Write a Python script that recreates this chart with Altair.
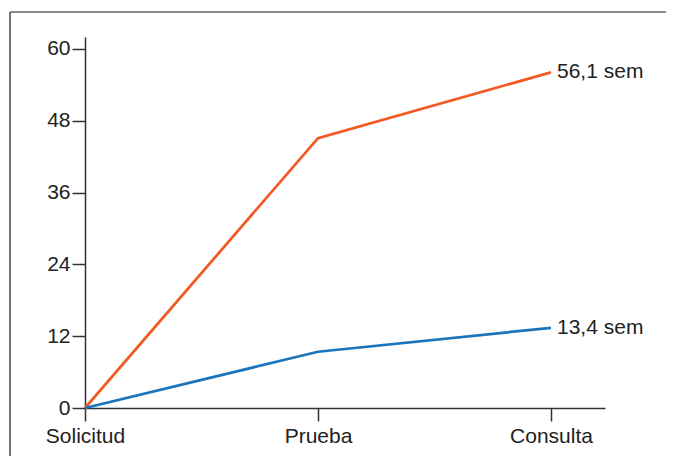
import altair as alt
import pandas as pd

categories = ["Solicitud", "Prueba", "Consulta"]
serie_naranja = [0, 45.1, 56.1]
serie_azul = [0, 9.4, 13.4]
etiquetas = ["56,1 sem", "13,4 sem"]
y_ticks = [0, 12, 24, 36, 48, 60]

rows = []
for i, c in enumerate(categories):
    rows.append({"idx": i, "cat": c, "serie": "naranja", "valor": serie_naranja[i]})
    rows.append({"idx": i, "cat": c, "serie": "azul", "valor": serie_azul[i]})
df = pd.DataFrame(rows)

lab_df = pd.DataFrame({
    "idx": [len(categories) - 1] * 2,
    "valor": [serie_naranja[-1], serie_azul[-1]],
    "texto": etiquetas,
    "serie": ["naranja", "azul"],
})

FONT = "Liberation Sans"
FS = 21
AX = "#333333"

label_expr = "[" + ",".join("'%s'" % c for c in categories) + "][datum.value]"

x_enc = alt.X("idx:Q",
              scale=alt.Scale(domain=[0, 2.2318], nice=False, zero=False),
              axis=alt.Axis(values=[0, 1, 2], labelExpr=label_expr, title=None,
                            grid=False, domainColor=AX, tickColor=AX, domainWidth=1.5,
                            tickWidth=1.5, tickSize=13, labelPadding=4,
                            labelFont=FONT, labelFontSize=FS, labelColor="#222222",
                            labelFlush=False))
y_enc = alt.Y("valor:Q",
              scale=alt.Scale(domain=[0, 62], nice=False),
              axis=alt.Axis(values=y_ticks, title=None, grid=False, domainColor=AX,
                            tickColor=AX, domainWidth=1.5, tickWidth=1.5, tickSize=13,
                            labelPadding=2, labelFont=FONT, labelFontSize=FS,
                            labelColor="#222222"))

color_scale = alt.Scale(domain=["naranja", "azul"], range=["#F15A24", "#1B75BC"])

lines = alt.Chart(df).mark_line(strokeWidth=2.75).encode(
    x=x_enc, y=y_enc,
    color=alt.Color("serie:N", scale=color_scale, legend=None),
    detail="serie:N",
)

labels = alt.Chart(lab_df).mark_text(align="left", baseline="middle", dx=6,
                                      font=FONT, fontSize=FS, color="#222222").encode(
    x="idx:Q", y="valor:Q", text="texto:N")

frame_top = alt.Chart(pd.DataFrame({"a": [0]})).mark_rule(color="#666666", strokeWidth=1.5).encode(
    x=alt.value(-75), x2=alt.value(600), y=alt.value(-25))
frame_left = alt.Chart(pd.DataFrame({"a": [0]})).mark_rule(color="#444444", strokeWidth=1.5).encode(
    x=alt.value(-75), y=alt.value(-25), y2=alt.value(430))

chart = alt.layer(frame_top, frame_left, lines, labels).properties(
    width=520, height=371,
    autosize=alt.AutoSizeParams(type="none"),
    padding={"left": 77, "top": 29, "right": 61, "bottom": 48},
).configure_view(stroke=None)

chart.save("out.html", embed_options={"renderer": "svg", "actions": False})
